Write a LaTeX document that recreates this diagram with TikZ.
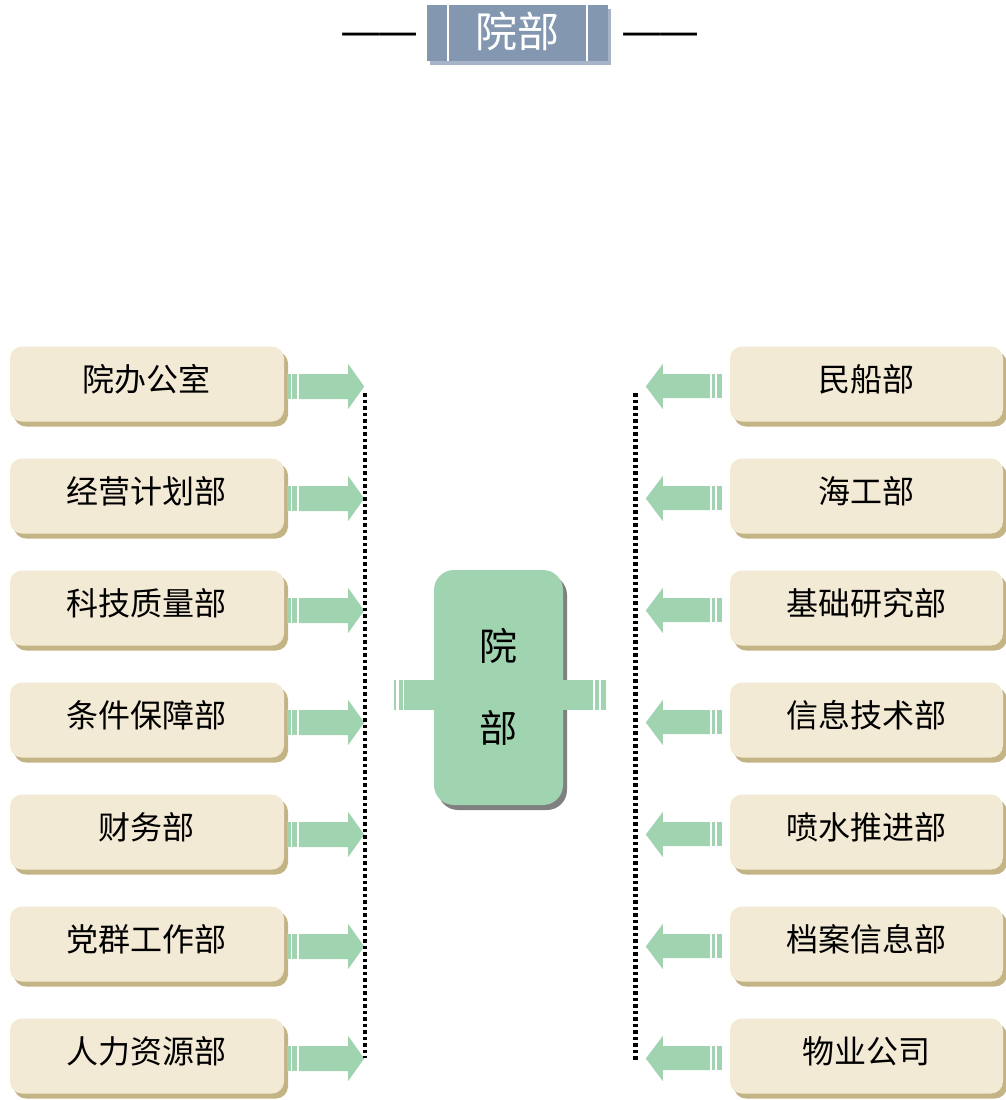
\documentclass[tikz,border=0pt]{standalone}
\usepackage{fontspec}
\newfontfamily\cjk{Noto Sans CJK SC}
\usetikzlibrary{shadows,calc}
\definecolor{boxfill}{HTML}{F3EAD5}
\definecolor{boxshadow}{HTML}{C3B385}
\definecolor{arrowgreen}{HTML}{A0D3B0}
\definecolor{titleblue}{HTML}{8497B0}
\definecolor{titleshadow}{HTML}{A7B4C8}
\begin{document}
\begin{tikzpicture}[x=1pt,y=-1pt,
  dept/.style={rounded corners=12pt, fill=boxfill, minimum width=274pt, minimum height=75pt,
    inner sep=0pt,
    drop shadow={shadow xshift=4pt, shadow yshift=-5pt, fill=boxshadow, opacity=1}},
  depttext/.style={inner sep=0pt, font=\cjk\fontsize{32}{38}\selectfont},
  center/.style={rounded corners=20pt, fill=arrowgreen, minimum width=129pt, minimum height=235pt,
    inner sep=0pt,
    drop shadow={shadow xshift=4pt, shadow yshift=-5pt, fill=black!50, opacity=1}},
  titlebox/.style={fill=titleblue, minimum width=181pt, minimum height=56pt, inner sep=0pt,
    drop shadow={shadow xshift=3pt, shadow yshift=-4pt, fill=titleshadow, opacity=1}},
  titletext/.style={text=white, inner sep=0pt, font=\cjk\fontsize{42}{46}\selectfont},
  dashtext/.style={font=\cjk\fontsize{46}{50}\selectfont, inner sep=0pt},
  bus/.style={line width=4.5pt, dash pattern=on 3.5pt off 3pt},
  arr/.style={fill=arrowgreen}
]
\useasboundingbox (0,0) rectangle (1005,1100);

% title
\node[titlebox] (T) at (517.5,33) {};
\node[titletext] (Tt) at (517.5,31) {院部};
\draw[white, line width=2pt] ($(T.north west)+(21,0)$) -- ($(T.south west)+(21,0)$);
\draw[white, line width=2pt] ($(T.north east)+(-21,0)$) -- ($(T.south east)+(-21,0)$);
\node[dashtext] (dl) at (379.5,40.5) {—\hspace{-5pt}—};
\node[dashtext] (dr) at (660.5,40.5) {—\hspace{-5pt}—};

% center
\node[center] (C) at (498.5,687.5) {};
\node[inner sep=0pt, align=center, font=\cjk\fontsize{38}{82}\selectfont] (Ct) at (498.5,687) {院\\部};
\begin{scope}[shift={(C.west)}]
  \fill[arr] (-30,-7.5) rectangle (0,22.5);
  \fill[arr] (-35,-7.5) rectangle (-31,22.5);
  \fill[arr] (-40,-7.5) rectangle (-37.5,22.5);
\end{scope}
\begin{scope}[shift={(C.east)}]
  \fill[arr] (0,-7.5) rectangle (30,22.5);
  \fill[arr] (32,-7.5) rectangle (35.5,22.5);
  \fill[arr] (37.5,-7.5) rectangle (42.5,22.5);
\end{scope}

% departments
\foreach \i/\t in {1/院办公室,2/经营计划部,3/科技质量部,4/条件保障部,5/财务部,6/党群工作部,7/人力资源部}{
  \node[dept] (L\i) at (147,{384+112*(\i-1)}) {};
  \node[depttext] (Lt\i) at (146.5,{379+112*(\i-1)}) {\t};
  \begin{scope}[shift={(L\i.east)}]
    \fill[arr] (3,-10) rectangle (7,15);
    \fill[arr] (8,-10) rectangle (13,15);
    \fill[arr] (15,-10) -- (64,-10) -- (64,-20) -- (80,2.5) -- (64,25) -- (64,15) -- (15,15) -- cycle;
  \end{scope}
}
\foreach \i/\t in {1/民船部,2/海工部,3/基础研究部,4/信息技术部,5/喷水推进部,6/档案信息部,7/物业公司}{
  \node[dept, minimum width=273pt] (R\i) at (866.5,{384+112*(\i-1)}) {};
  \node[depttext] (Rt\i) at (866.5,{379+112*(\i-1)}) {\t};
  \begin{scope}[shift={(R\i.west)}]
    \fill[arr] (-18,-10) rectangle (-14.5,14);
    \fill[arr] (-12.5,-10) rectangle (-8,14);
    \fill[arr] (-20,-10) -- (-67,-10) -- (-67,-20) -- (-84,2.5) -- (-67,25) -- (-67,14) -- (-20,14) -- cycle;
  \end{scope}
}

% buses
\coordinate (bL1) at (365,393);
\coordinate (bL2) at (365,1058);
\coordinate (bR1) at (635.5,393);
\coordinate (bR2) at (635.5,1060);
\draw[bus] (bL1) -- (bL2);
\draw[bus] (bR1) -- (bR2);
\end{tikzpicture}
\end{document}
